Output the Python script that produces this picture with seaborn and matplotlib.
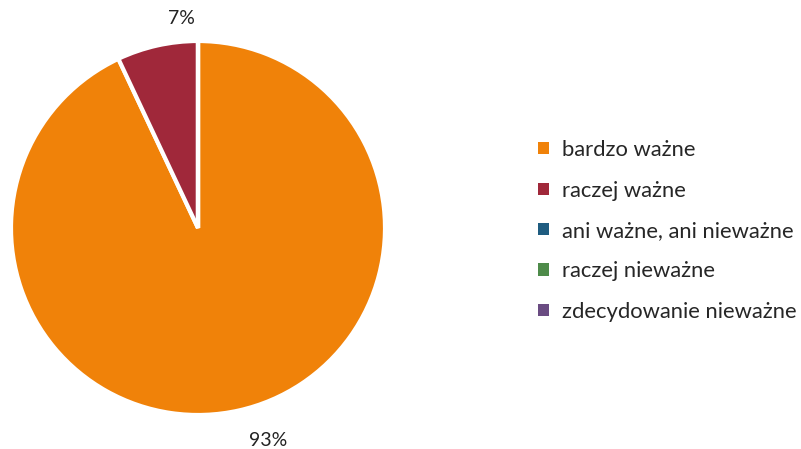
import matplotlib
matplotlib.use("Agg")
import matplotlib.pyplot as plt
import seaborn as sns
from matplotlib.patches import Patch

categories = ["bardzo ważne", "raczej ważne", "ani ważne, ani nieważne", "raczej nieważne", "zdecydowanie nieważne"]
values = [93, 7, 0, 0, 0]
colors = ["#F08209", "#A0283A", "#1F5C80", "#4E8B4A", "#6A4C82"]

sns.set_theme(style="white")
plt.rcParams['font.family'] = ['Lato', 'DejaVu Sans']

fig = plt.figure(figsize=(8.01, 4.49), dpi=100)
W, H = 801, 449
ax = fig.add_axes([11 / W, (H - 415) / H, 374 / W, 374 / H])
palette = sns.color_palette(colors)

wedges, texts, autotexts = ax.pie(
    values, colors=palette, startangle=90, counterclock=False,
    wedgeprops=dict(edgecolor="white", linewidth=3),
    autopct=lambda p: f"{p:.0f}%" if p > 0 else "",
    pctdistance=1.15, textprops=dict(fontsize=14, color="#222222"),
)
ax.set_xlim(-1, 1)
ax.set_ylim(-1, 1)
ax.set_aspect("equal")
ax.axis("off")

# adjust label positions to match the reference layout
autotexts[0].set_position((0.375, -1.135))
autotexts[1].set_position((-0.09, 1.12))

handles = [Patch(facecolor=c, edgecolor="none") for c in palette]
fig.legend(handles, categories, loc="center left", bbox_to_anchor=(538 / W, 1 - 231 / H),
           frameon=False, fontsize=15.8, handlelength=0.48, handleheight=0.48,
           handletextpad=0.6, labelspacing=0.93, borderpad=0, borderaxespad=0)

fig.savefig("out.png", dpi=100)
